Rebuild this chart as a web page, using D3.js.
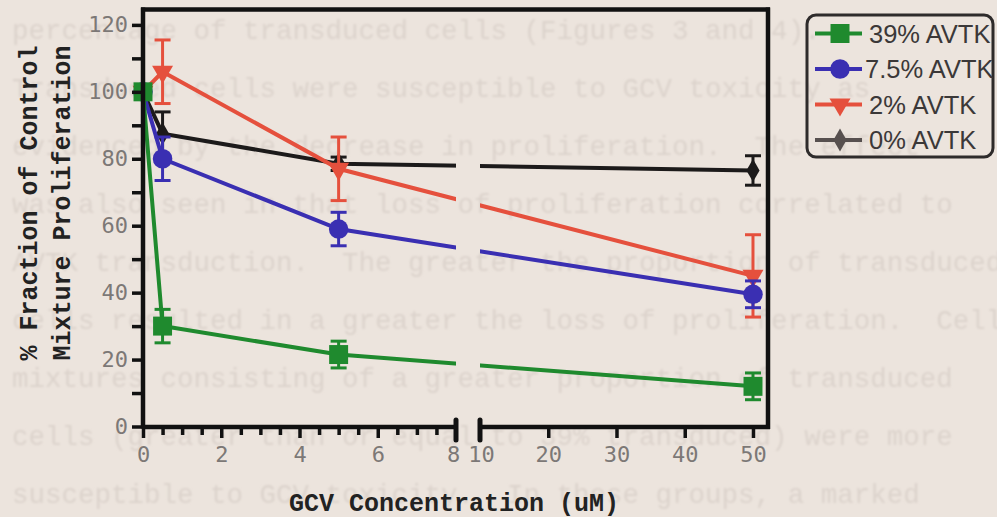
<!DOCTYPE html>
<html>
<head>
<meta charset="utf-8">
<script src="https://cdn.jsdelivr.net/npm/d3@7"></script>
<style>
  html, body { margin: 0; padding: 0; background: #ece4dd; }
  svg { display: block; }
</style>
</head>
<body>
<svg id="chart" width="997" height="517"></svg>
<script>
// ---- data ----
const doses = [0, 0.5, 5, 50];                 // GCV concentration (uM)
const seriesNames = ["39% AVTK", "7.5% AVTK", "2% AVTK", "0% AVTK"];
const avtk39 = [100, 30, 21.5, 12];
const avtk39Err = [0, 5, 4, 4];
const avtk75 = [100, 80, 59, 39.5];
const avtk75Err = [0, 6.5, 5, 4];
const avtk2 = [100, 106, 77, 45];
const avtk2Err = [0, 9.5, 9.5, 12.3];
const avtk0 = [100, 87.5, 78.5, 76.5];
const avtk0Err = [0, 6.5, 2, 4.4];
const yTicks = [0, 20, 40, 60, 80, 100, 120];
const yMinorTicks = [10, 30, 50, 70, 90, 110];
const xTicksLow = [0, 2, 4, 6, 8];
const xTicksHigh = [10, 20, 30, 40, 50];

// page text printed on the sheet behind the figure
const pageLines = [
  "percentage of transduced cells (Figures 3 and 4).",
  "Transduced cells were susceptible to GCV toxicity as",
  "evidenced by the decrease in proliferation.  The effect",
  "was also seen in that loss of proliferation correlated to",
  "AVTK transduction.  The greater the proportion of transduced",
  "cells resulted in a greater the loss of proliferation.  Cell",
  "mixtures consisting of a greater proportion of transduced",
  "cells (greater than or equal to 39% transduced) were more",
  "susceptible to GCV toxicity.  In these groups, a marked"
];

const colors = ["#1f8a2e", "#3a2fb2", "#e5503d", "#1c1a1a"];
const legendColors = ["#1f8a2e", "#3a2fb2", "#e5503d", "#57504f"];
const symbols = [d3.symbolSquare, d3.symbolCircle, d3.symbolTriangle, d3.symbolDiamond];
const symbolSizes = [360, 300, 190, 150];

const series = seriesNames.map((name, i) => ({
  name,
  values: [avtk39, avtk75, avtk2, avtk0][i],
  errors: [avtk39Err, avtk75Err, avtk2Err, avtk0Err][i],
  color: colors[i],
  legendColor: legendColors[i],
  symbol: symbols[i],
  size: symbolSizes[i]
}));

// ---- scales (broken x axis: 0-8 and 10-52) ----
const xLow = d3.scaleLinear().domain([0, 8]).range([143, 456]);
const xHigh = d3.scaleLinear().domain([10, 52.2]).range([480, 768]);
const x = v => (v <= 9 ? xLow(v) : xHigh(v));
const y = d3.scaleLinear().domain([0, 124.6]).range([426.5, 9.5]);

const svg = d3.select("#chart");
const defs = svg.append("defs");
defs.append("filter").attr("id", "soft")
  .append("feGaussianBlur").attr("stdDeviation", 0.9);

// faint page text showing through the paper
const bg = svg.append("g")
  .attr("filter", "url(#soft)")
  .attr("font-family", "'Liberation Mono', 'Courier New', monospace")
  .attr("font-size", 27.5)
  .attr("fill", "#dcd3cc");
bg.selectAll("text").data(pageLines).join("text")
  .attr("x", 12)
  .attr("y", (d, i) => 39 + i * 58)
  .attr("xml:space", "preserve")
  .style("white-space", "pre")
  .text(d => d);

// clip that leaves a gap in the data lines at the axis break
const clip = defs.append("clipPath").attr("id", "brk");
clip.append("rect").attr("x", 0).attr("y", 0).attr("width", 456).attr("height", 517);
clip.append("rect").attr("x", 480).attr("y", 0).attr("width", 517).attr("height", 517);

const plot = svg.append("g");
const line = d3.line().x((d, i) => x(doses[i])).y(d => y(d));

// draw back to front so 39% sits on top
series.slice().reverse().forEach(s => {
  const g = plot.append("g");
  g.append("path")
    .attr("d", line(s.values))
    .attr("clip-path", "url(#brk)")
    .attr("fill", "none")
    .attr("stroke", s.color)
    .attr("stroke-width", 4);
  // error bars
  s.values.forEach((v, i) => {
    const e = s.errors[i];
    if (!e) return;
    const cx = x(doses[i]);
    g.append("line")
      .attr("x1", cx).attr("x2", cx)
      .attr("y1", y(v - e)).attr("y2", y(v + e))
      .attr("stroke", s.color).attr("stroke-width", 3);
    [v - e, v + e].forEach(t => {
      g.append("line")
        .attr("x1", cx - 8).attr("x2", cx + 8)
        .attr("y1", y(t)).attr("y2", y(t))
        .attr("stroke", s.color).attr("stroke-width", 3);
    });
  });
  // markers
  g.selectAll("path.m").data(s.values).join("path")
    .attr("class", "m")
    .attr("d", d3.symbol().type(s.symbol).size(s.size))
    .attr("transform", (v, i) => `translate(${x(doses[i])},${y(v)})` + (s.symbol === d3.symbolTriangle ? " rotate(180)" : ""))
    .attr("fill", s.color);
});

// ---- axes ----
const axisColor = "#111";
const tickFont = "'DejaVu Sans Mono', monospace";
const labelColor = "#7c7876";

function styleAxis(g, width) {
  g.select(".domain").remove();
  g.selectAll(".tick line").attr("stroke", axisColor).attr("stroke-width", width);
  g.selectAll(".tick text")
    .attr("font-family", tickFont)
    .attr("font-size", 22)
    .attr("fill", labelColor);
}

// y axis
const yMinorG = svg.append("g").attr("transform", "translate(143,0)")
  .call(d3.axisLeft(y).tickValues(yMinorTicks).tickSize(11).tickFormat(""));
styleAxis(yMinorG, 3.5);
const yG = svg.append("g").attr("transform", "translate(143,0)")
  .call(d3.axisLeft(y).tickValues(yTicks).tickSize(11).tickPadding(4));
styleAxis(yG, 3.5);

// x axis, low segment: minor ticks every 0.5
const xMinor = d3.range(0.5, 8, 0.5).filter(v => v % 2 !== 0);
const xLowMinorG = svg.append("g").attr("transform", "translate(0,427)")
  .call(d3.axisBottom(xLow).tickValues(xMinor).tickSize(8).tickFormat(""));
styleAxis(xLowMinorG, 3.5);
const xLowG = svg.append("g").attr("transform", "translate(0,427)")
  .call(d3.axisBottom(xLow).tickValues(xTicksLow).tickSize(11).tickPadding(8));
styleAxis(xLowG, 3.5);
xLowG.selectAll(".tick").filter(d => d === 8).select("line").remove();
xLowG.selectAll(".tick").filter(d => d === 8).select("text").attr("dx", -3);

// x axis, high segment
const xHighG = svg.append("g").attr("transform", "translate(0,427)")
  .call(d3.axisBottom(xHigh).tickValues(xTicksHigh).tickSize(11).tickPadding(8));
styleAxis(xHighG, 3.5);
xHighG.selectAll(".tick").filter(d => d === 10).select("line").remove();
xHighG.selectAll(".tick").filter(d => d === 10).select("text").attr("dx", 1);

// axis lines and frame
const frame = svg.append("g").attr("stroke", axisColor).attr("fill", "none").attr("stroke-width", 4.5);
frame.append("line").attr("x1", xLow(0)).attr("x2", xLow(0)).attr("y1", y(0) + 2).attr("y2", y.range()[1] - 2);
frame.append("line").attr("x1", xLow(0) - 2).attr("x2", xHigh(52.2) + 2).attr("y1", y.range()[1]).attr("y2", y.range()[1]);
frame.append("line").attr("x1", xHigh(52.2)).attr("x2", xHigh(52.2)).attr("y1", y.range()[1] - 2).attr("y2", 429);
frame.append("line").attr("x1", xLow(0)).attr("x2", xLow(8)).attr("y1", 427).attr("y2", 427);
frame.append("line").attr("x1", xHigh(10)).attr("x2", xHigh(52.2) + 2).attr("y1", 427).attr("y2", 427);
// break marks
[xLow(8), xHigh(10)].forEach(bx => {
  frame.append("line").attr("x1", bx).attr("x2", bx).attr("y1", 420).attr("y2", 440)
    .attr("stroke-width", 5).attr("stroke-linecap", "round");
});

// axis titles
const titleFont = "'Liberation Mono', 'Courier New', monospace";
svg.append("text")
  .attr("x", 454).attr("y", 511)
  .attr("text-anchor", "middle")
  .attr("font-family", titleFont).attr("font-weight", "bold").attr("font-size", 25)
  .attr("fill", "#222")
  .text("GCV Concentration (uM)");
const yTitle = svg.append("g").attr("font-family", titleFont).attr("font-weight", "bold")
  .attr("font-size", 25).attr("fill", "#222").attr("text-anchor", "middle");
yTitle.append("text").attr("transform", "translate(37,203) rotate(-90)").text("% Fraction of Control");
yTitle.append("text").attr("transform", "translate(70,203) rotate(-90)").text("Mixture Proliferation");

// ---- legend ----
const legend = svg.append("g");
legend.append("rect")
  .attr("x", 807).attr("y", 15).attr("width", 186).attr("height", 142).attr("rx", 9)
  .attr("fill", "none").attr("stroke", "#2e2b2b").attr("stroke-width", 3);
series.forEach((s, i) => {
  const ly = 33.5 + i * 35.5;
  const g = legend.append("g");
  g.append("line").attr("x1", 815).attr("x2", 862).attr("y1", ly).attr("y2", ly)
    .attr("stroke", s.legendColor).attr("stroke-width", 4);
  g.append("path")
    .attr("d", d3.symbol().type(s.symbol).size(s.size))
    .attr("transform", `translate(840,${ly})` + (s.symbol === d3.symbolTriangle ? " rotate(180)" : ""))
    .attr("fill", s.legendColor);
  g.append("text").attr("x", i === 1 ? 865 : 869).attr("y", ly + 9)
    .attr("font-family", "'Liberation Sans', Arial, sans-serif").attr("font-size", 25.5)
    .attr("fill", "#3b3838")
    .text(s.name);
});
</script>
</body>
</html>
